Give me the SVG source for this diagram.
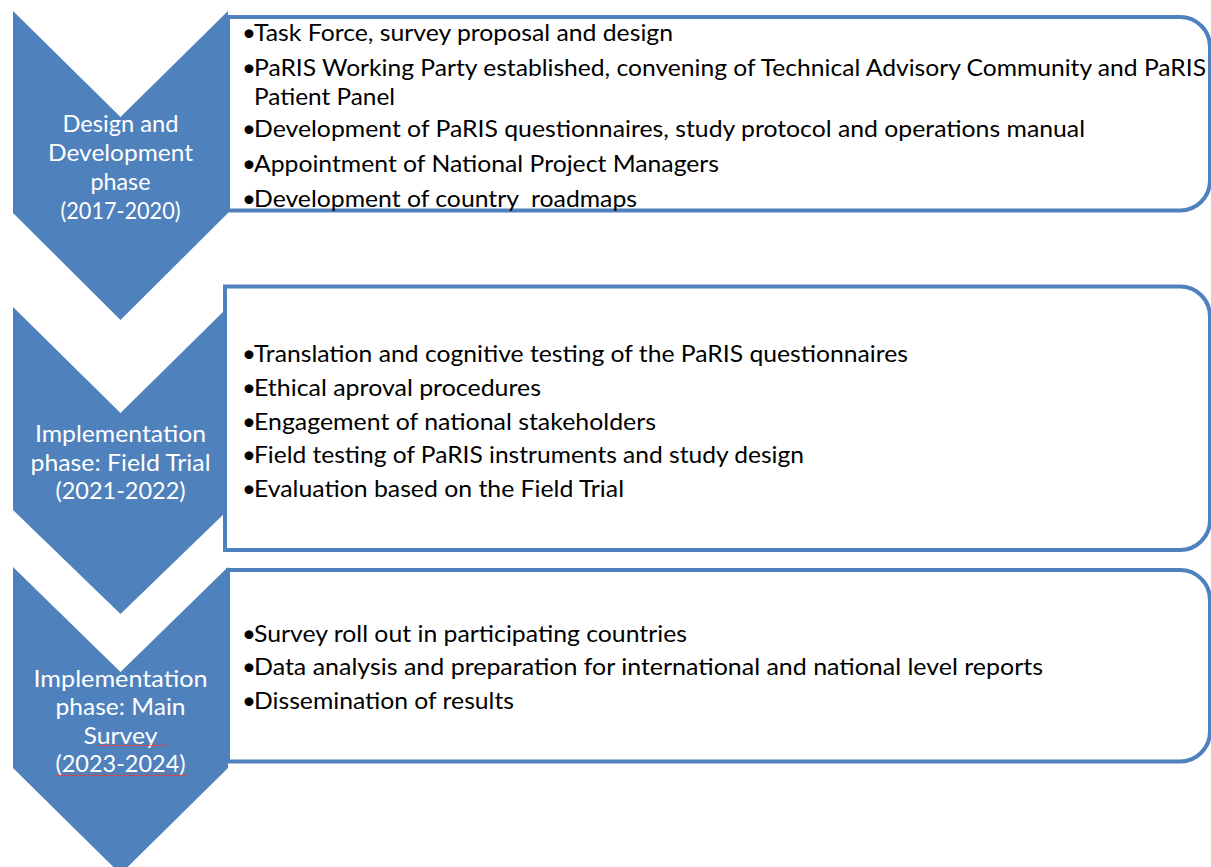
<svg xmlns="http://www.w3.org/2000/svg" width="1211" height="867" viewBox="0 0 1211 867">
<style>
.chev{fill:#4F81BD;stroke:none}
.box{fill:#FFFFFF;stroke:#4F81BD;stroke-width:4}
.ct{font-family:Lato,"Liberation Sans",sans-serif;font-size:24px;fill:#FFFFFF;text-anchor:middle}
.bt{font-family:Lato,"Liberation Sans",sans-serif;font-size:24px;fill:#000000;white-space:pre}
.sq{fill:url(#squig)}
</style>
<defs>
<pattern id="squig" x="0" y="0" width="4" height="3" patternUnits="userSpaceOnUse">
<path d="M0,2 L1,0.8 L3,2.2 L4,1.6" fill="none" stroke="#E0403A" stroke-width="1"/>
</pattern>
</defs>
<rect width="1211" height="867" fill="#FFFFFF"/>

<g id="phase1">
<polygon class="chev" points="13,11 120.5,117 228,11 228,213 120.5,320 13,213"/>
<text class="ct" x="120.5" y="131.5" textLength="116" lengthAdjust="spacingAndGlyphs">Design and</text>
<text class="ct" x="120.5" y="161" textLength="145" lengthAdjust="spacingAndGlyphs">Development</text>
<text class="ct" x="120.5" y="190" textLength="60" lengthAdjust="spacingAndGlyphs">phase</text>
<text class="ct" x="120.5" y="218.5" textLength="120" lengthAdjust="spacingAndGlyphs">(2017-2020)</text>
</g>

<g id="phase2">
<polygon class="chev" points="13,307 120.5,413 228,307 228,510 120.5,614 13,510"/>
<text class="ct" x="120.5" y="442" textLength="171" lengthAdjust="spacingAndGlyphs">Implementation</text>
<text class="ct" x="120.5" y="470.5" textLength="180" lengthAdjust="spacingAndGlyphs">phase: Field Trial</text>
<text class="ct" x="120.5" y="499" textLength="130" lengthAdjust="spacingAndGlyphs">(2021-2022)</text>
</g>

<g id="phase3">
<polygon class="chev" points="13,567 120.5,672 228,567 228,768 120.5,874 13,768"/>
<text class="ct" x="120.5" y="686.5" textLength="174" lengthAdjust="spacingAndGlyphs">Implementation</text>
<text class="ct" x="120.5" y="715" textLength="130" lengthAdjust="spacingAndGlyphs">phase: Main</text>
<text class="ct" x="120.5" y="743.5" textLength="74" lengthAdjust="spacingAndGlyphs">Survey</text>
<text class="ct" x="120.5" y="772" textLength="130" lengthAdjust="spacingAndGlyphs">(2023-2024)</text>
<rect class="sq" x="97" y="743.5" width="71" height="3"/>
<rect class="sq" x="55" y="773" width="132" height="3"/>
</g>

<g id="box1">
<path class="box" d="M228,17 H1180 A30,30 0 0 1 1210,47 V180.5 A30,30 0 0 1 1180,210.5 H228 Z"/>
<text class="bt" x="242" y="41">•</text>
<text class="bt" x="254" y="41" textLength="419" lengthAdjust="spacingAndGlyphs">Task Force, survey proposal and design</text>
<text class="bt" x="242" y="76">•</text>
<text class="bt" x="254" y="76" textLength="952" lengthAdjust="spacingAndGlyphs">PaRIS Working Party established, convening of Technical Advisory Community and PaRIS</text>
<text class="bt" x="254" y="105" textLength="141" lengthAdjust="spacingAndGlyphs">Patient Panel</text>
<text class="bt" x="242" y="137">•</text>
<text class="bt" x="254" y="137" textLength="831" lengthAdjust="spacingAndGlyphs">Development of PaRIS questionnaires, study protocol and operations manual</text>
<text class="bt" x="242" y="171.5">•</text>
<text class="bt" x="254" y="171.5" textLength="465" lengthAdjust="spacingAndGlyphs">Appointment of National Project Managers</text>
<text class="bt" x="242" y="206.5">•</text>
<text class="bt" x="254" y="206.5" textLength="383" lengthAdjust="spacingAndGlyphs">Development of country  roadmaps</text>
</g>

<g id="box2">
<path class="box" d="M225,286.5 H1180 A30,30 0 0 1 1210,316.5 V520 A30,30 0 0 1 1180,550 H225 Z"/>
<text class="bt" x="242" y="362">•</text>
<text class="bt" x="254" y="362" textLength="654" lengthAdjust="spacingAndGlyphs">Translation and cognitive testing of the PaRIS questionnaires</text>
<text class="bt" x="242" y="396">•</text>
<text class="bt" x="254" y="396" textLength="287" lengthAdjust="spacingAndGlyphs">Ethical aproval procedures</text>
<text class="bt" x="242" y="430">•</text>
<text class="bt" x="254" y="430" textLength="402" lengthAdjust="spacingAndGlyphs">Engagement of national stakeholders</text>
<text class="bt" x="242" y="463">•</text>
<text class="bt" x="254" y="463" textLength="550" lengthAdjust="spacingAndGlyphs">Field testing of PaRIS instruments and study design</text>
<text class="bt" x="242" y="497">•</text>
<text class="bt" x="254" y="497" textLength="370" lengthAdjust="spacingAndGlyphs">Evaluation based on the Field Trial</text>
</g>

<g id="box3">
<path class="box" d="M228,570 H1180 A30,30 0 0 1 1210,600 V731.5 A30,30 0 0 1 1180,761.5 H228 Z"/>
<text class="bt" x="242" y="642">•</text>
<text class="bt" x="254" y="642" textLength="433" lengthAdjust="spacingAndGlyphs">Survey roll out in participating countries</text>
<text class="bt" x="242" y="675">•</text>
<text class="bt" x="254" y="675" textLength="789" lengthAdjust="spacingAndGlyphs">Data analysis and preparation for international and national level reports</text>
<text class="bt" x="242" y="709">•</text>
<text class="bt" x="254" y="709" textLength="260" lengthAdjust="spacingAndGlyphs">Dissemination of results</text>
</g>

<g id="connectors"></g>
</svg>
